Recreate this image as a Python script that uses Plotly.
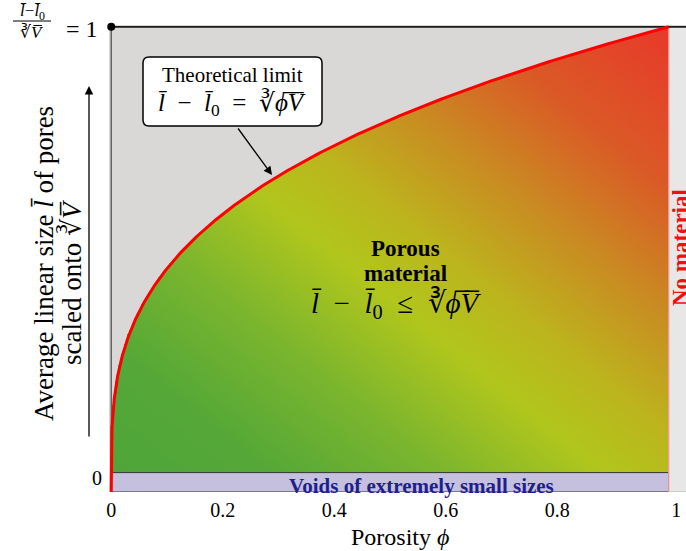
import numpy as np
import plotly.graph_objects as go

# ---------------- data ----------------
porosity_ticks = [0, 0.2, 0.4, 0.6, 0.8, 1]
porosity_tick_labels = ["0", "0.2", "0.4", "0.6", "0.8", "\u00a0\u00a0\u00a01"]
size_ticks = [0]
size_tick_labels = ["0"]

# theoretical limit  (l - l0)/V^(1/3) = phi^(1/3)
limit_size = np.linspace(0, 1, 401)
limit_porosity = limit_size ** 3

void_band_top = 0.012      # upper edge of the "extremely small voids" band
size_axis_min = -0.031
porosity_axis_max = 1.031

# ---------------- geometry helpers (pixels -> coords) ----------------
W, H = 686, 551
ML, MR, MT, MB = 109, 0, 25, 59
XR = [-0.004, porosity_axis_max]
YR = [size_axis_min, 1.004]
sx = (W - ML - MR) / (XR[1] - XR[0])
sy = (H - MT - MB) / (YR[1] - YR[0])
SERIF = "Liberation Serif"


def px2x(px):
    return XR[0] + (px - ML) / sx


def py2y(py):
    return YR[1] - (py - MT) / sy


def px2paper(px):
    return (px - ML) / (W - ML - MR)


def py2paper(py):
    return (H - MB - py) / (H - MT - MB)


# ---------------- gradient fill under the curve ----------------
gx = np.linspace(0, 1, 361)
gy = np.linspace(void_band_top, 1, 360)
GX, GY = np.meshgrid(gx, gy)
Z = np.where(GY <= np.cbrt(GX + 0.0015), np.round(GX + GY, 3), np.nan)
z_list = [[None if np.isnan(v) else float(v) for v in row] for row in Z]

colorscale = [
    [0.00, "#4ea53a"],
    [0.15, "#55a837"],
    [0.30, "#7ab52e"],
    [0.45, "#b1c61c"],
    [0.55, "#bcb41d"],
    [0.68, "#c98b22"],
    [0.82, "#da5a26"],
    [1.00, "#e8382a"],
]

fig = go.Figure()

fig.add_trace(go.Heatmap(
    x=gx, y=gy, z=z_list, zmin=0, zmax=2, colorscale=colorscale,
    showscale=False, hoverinfo="skip", zsmooth=False,
))

# voids band
fig.add_trace(go.Scatter(
    x=[0, 1, 1, 0, 0],
    y=[size_axis_min, size_axis_min, void_band_top, void_band_top, size_axis_min],
    mode="lines", fill="toself", fillcolor="#c4c0de",
    line=dict(color="#333333", width=1), hoverinfo="skip",
))

# "no material" band
fig.add_trace(go.Scatter(
    x=[1, porosity_axis_max + 0.01, porosity_axis_max + 0.01, 1, 1],
    y=[size_axis_min, size_axis_min, 1, 1, size_axis_min],
    mode="lines", fill="toself", fillcolor="#e7e7e7",
    line=dict(color="rgba(0,0,0,0)", width=0), hoverinfo="skip",
))
fig.add_trace(go.Scatter(
    x=[1, 1, porosity_axis_max + 0.01],
    y=[1, size_axis_min, size_axis_min],
    mode="lines", line=dict(color="#f29a9a", width=1.2), hoverinfo="skip",
))

# frame lines
fig.add_trace(go.Scatter(
    x=[0, 0], y=[void_band_top, 1], mode="lines",
    line=dict(color="#555555", width=1.3), hoverinfo="skip",
))
fig.add_trace(go.Scatter(
    x=[0, porosity_axis_max + 0.01], y=[1, 1], mode="lines",
    line=dict(color="#1a1a1a", width=1.8), hoverinfo="skip",
))

# theoretical limit curve
fig.add_trace(go.Scatter(
    x=np.concatenate([[0], limit_porosity]),
    y=np.concatenate([[size_axis_min], limit_size]),
    mode="lines", line=dict(color="#ff0000", width=3), hoverinfo="skip",
))

# dot at (0, 1)
fig.add_trace(go.Scatter(
    x=[0], y=[1], mode="markers", marker=dict(color="black", size=8),
    cliponaxis=False, hoverinfo="skip",
))

# ---------------- callout box (rounded) ----------------
bx0, bx1, by0, by1 = px2x(143), px2x(322), py2y(126), py2y(57)
rx, ry = 6 / sx, 6 / sy
path = (
    f"M {bx0+rx},{by0} L {bx1-rx},{by0} Q {bx1},{by0} {bx1},{by0+ry} "
    f"L {bx1},{by1-ry} Q {bx1},{by1} {bx1-rx},{by1} "
    f"L {bx0+rx},{by1} Q {bx0},{by1} {bx0},{by1-ry} "
    f"L {bx0},{by0+ry} Q {bx0},{by0} {bx0+rx},{by0} Z"
)
fig.add_shape(type="path", path=path, xref="x", yref="y",
              fillcolor="white", line=dict(color="black", width=1.5), layer="above")

# fraction bar for the top-left label
fig.add_shape(type="line", xref="paper", yref="paper",
              x0=px2paper(13), x1=px2paper(51), y0=py2paper(21), y1=py2paper(21),
              line=dict(color="black", width=1.2))

lbar = "l\u0304"
root = "∛<i>ϕ\u0305V\u0305</i>"
sp = "\u2002"
annotations = [
    dict(x=px2x(232), y=py2y(75), text="Theoretical limit", font=dict(size=21)),
    dict(x=px2x(232), y=py2y(104),
         text=f"<i>{lbar}</i>{sp}−{sp}<i>{lbar}</i><sub>0</sub>{sp}={sp}{root}",
         font=dict(size=25)),
    dict(x=px2x(405), y=py2y(248), text="<b>Porous</b>", font=dict(size=23)),
    dict(x=px2x(405), y=py2y(273), text="<b>material</b>", font=dict(size=23)),
    dict(x=px2x(396), y=py2y(304),
         text=f"<i>{lbar}</i>{sp}−{sp}<i>{lbar}</i><sub>0</sub>{sp}≤{sp}{root}",
         font=dict(size=29)),
    dict(x=px2x(421), y=py2y(486), text="<b>Voids of extremely small sizes</b>",
         font=dict(size=21, color="#1f1f8c")),
]
for a in annotations:
    a["font"]["family"] = SERIF
    a.update(xref="x", yref="y", showarrow=False, xanchor="center", yanchor="middle")
    fig.add_annotation(**a)

# arrow from callout to curve
fig.add_annotation(x=px2x(272), y=py2y(175), xref="x", yref="y", ax=-35, ay=-48,
                   text="", showarrow=True, arrowhead=2, arrowsize=1.3,
                   arrowwidth=1.3, arrowcolor="black")

# y direction arrow
fig.add_annotation(x=px2paper(89), y=py2paper(86), xref="paper", yref="paper",
                   ax=0, ay=352, text="", showarrow=True, arrowhead=2,
                   arrowsize=1.3, arrowwidth=1.3, arrowcolor="black")

paper_texts = [
    # y-axis title (two lines, rotated)
    dict(px=44, py=264, text=f"Average linear size <i>{lbar}</i> of pores",
         textangle=-90, font=dict(size=27)),
    dict(px=72, py=282, text="scaled onto ∛<i>V\u0305</i>",
         textangle=-90, font=dict(size=27)),
    # top-left label (l - l0)/V^(1/3) = 1
    dict(px=32, py=12, text=f"<i>{lbar}</i>−<i>{lbar}</i><sub>0</sub>",
         font=dict(size=17)),
    dict(px=32, py=32, text="∛<i>V\u0305</i>", font=dict(size=17)),
    dict(px=82, py=29, text="= 1", font=dict(size=24)),
    # "No material" (clipped at the right edge)
    dict(px=680, py=248, text="<b>No material</b>", textangle=-90,
         font=dict(size=23, color="#ee1111")),
    # x-axis title
    dict(px=400, py=537, text="Porosity <i>ϕ</i>", font=dict(size=24)),
]
for t in paper_texts:
    t["font"]["family"] = SERIF
    fig.add_annotation(x=px2paper(t.pop("px")), y=py2paper(t.pop("py")),
                       xref="paper", yref="paper", showarrow=False,
                       xanchor="center", yanchor="middle", **t)

fig.update_layout(
    width=W, height=H,
    margin=dict(l=ML, r=MR, t=MT, b=MB, autoexpand=False),
    paper_bgcolor="white", plot_bgcolor="#d9d8d6",
    showlegend=False,
    font=dict(family=SERIF, color="black"),
    xaxis=dict(range=XR, tickvals=porosity_ticks, ticktext=porosity_tick_labels,
               showgrid=False, zeroline=False, showline=False, ticks="",
               tickfont=dict(size=20, family=SERIF), ticklabelstandoff=4,
               automargin=False),
    yaxis=dict(range=YR, tickvals=size_ticks, ticktext=size_tick_labels,
               showgrid=False, zeroline=False, showline=False, ticks="",
               tickfont=dict(size=20, family=SERIF), ticklabelstandoff=6,
               automargin=False),
)

fig.write_html(
    "out.html",
    config={"displayModeBar": False},
    post_script="document.body.style.margin='0';document.body.style.overflow='hidden';",
)
